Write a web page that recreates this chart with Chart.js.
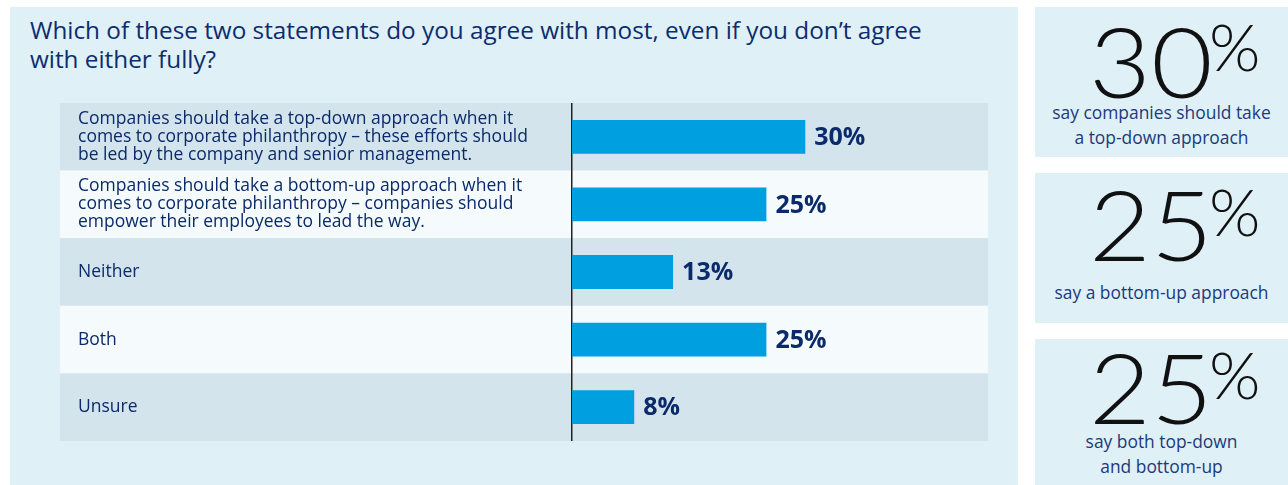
<!DOCTYPE html>
<html>
<head>
<meta charset="utf-8">
<script src="https://cdn.jsdelivr.net/npm/chart.js@4/dist/chart.umd.min.js"></script>
<style>
  body { margin: 0; background: #fff; width: 1288px; height: 485px; overflow: hidden; position: relative; font-family: "Open Sans", sans-serif; }
  #main { position: absolute; left: 10px; top: 7px; width: 1008px; height: 490px; background: #dff0f7; }
  #title { position: absolute; left: 30px; top: 15px; font-size: 24.3px; line-height: 29px; color: #0b2d6e; }
  #chart { position: absolute; left: 60px; top: 103px; }
  .panel { position: absolute; left: 1035px; width: 253px; background: #dff0f7; }
  .big { position: absolute; font-family: Lato, sans-serif; font-weight: 300; font-size: 97px; line-height: 97px; color: #111; transform: scaleX(1.1); transform-origin: left top; }
  .pct { position: absolute; font-family: Lato, sans-serif; font-weight: 300; font-size: 66px; line-height: 66px; color: #111; }
  .cap { position: absolute; left: 0; width: 253px; text-align: center; font-size: 17.4px; line-height: 25px; color: #1b3a7c; }
</style>
</head>
<body>
<div id="main"></div>
<div id="title">Which of these two statements do you agree with most, even if you don’t agree<br>with either fully?</div>
<canvas id="chart" width="928" height="338"></canvas>

<div class="panel" style="top:7px;height:150px">
  <div class="big" style="left:54px;top:5px">30</div>
  <div class="pct" style="left:174px;top:6px">%</div>
  <div class="cap" style="top:93px">say companies should take<br>a top-down approach</div>
</div>
<div class="panel" style="top:173px;height:150px">
  <div class="big" style="left:54px;top:2px">25</div>
  <div class="pct" style="left:174px;top:5px">%</div>
  <div class="cap" style="top:107px">say a bottom-up approach</div>
</div>
<div class="panel" style="top:339px;height:146px">
  <div class="big" style="left:54px;top:-1px">25</div>
  <div class="pct" style="left:174px;top:2px">%</div>
  <div class="cap" style="top:90px">say both top-down<br>and bottom-up</div>
</div>

<script>
var categories = [
  ["Companies should take a top-down approach when it", "comes to corporate philanthropy – these efforts should", "be led by the company and senior management."],
  ["Companies should take a bottom-up approach when it", "comes to corporate philanthropy – companies should", "empower their employees to lead the way."],
  "Neither",
  "Both",
  "Unsure"
];
var values = [30, 25, 13, 25, 8];
var valueLabels = ["30%", "25%", "13%", "25%", "8%"];

var rowColors = ["#d3e4ec", "#f5fbfd"];
var navy = "#0b2a6b";

// alternating row bands behind the bars
var rowBands = {
  id: 'rowBands',
  beforeDraw: function(chart) {
    var ctx = chart.ctx;
    var yScale = chart.scales.y;
    var step = yScale.height / categories.length;
    ctx.save();
    for (var i = 0; i < categories.length; i++) {
      var yc = yScale.getPixelForValue(i);
      ctx.fillStyle = rowColors[i % 2];
      ctx.fillRect(0, yc - step / 2, chart.width, step);
    }
    ctx.restore();
  }
};

// percentage labels at the end of each bar
var barLabels = {
  id: 'barLabels',
  afterDatasetsDraw: function(chart) {
    var ctx = chart.ctx;
    var meta = chart.getDatasetMeta(0);
    ctx.save();
    ctx.font = "bold 25px 'Open Sans'";
    ctx.fillStyle = navy;
    ctx.textAlign = "left";
    ctx.textBaseline = "middle";
    meta.data.forEach(function(bar, i) {
      ctx.fillText(valueLabels[i], bar.x + 9, bar.y + 1);
    });
    ctx.restore();
  }
};

var ctx = document.getElementById('chart').getContext('2d');
window.myBar = new Chart(ctx, {
  type: 'bar',
  data: {
    labels: categories,
    datasets: [{
      data: values,
      backgroundColor: "#009fe0",
      borderWidth: 0,
      categoryPercentage: 1,
      barPercentage: 0.5
    }]
  },
  options: {
    indexAxis: 'y',
    responsive: false,
    animation: false,
    devicePixelRatio: 1,
    layout: { padding: { left: 18, right: 0, top: 0, bottom: 0 } },
    plugins: { legend: { display: false }, tooltip: { enabled: false } },
    scales: {
      x: { display: false, min: 0, max: 53.5 },
      y: {
        grid: { display: false },
        border: { display: true, color: "#222", width: 1.5 },
        ticks: {
          crossAlign: 'far',
          color: navy,
          font: { family: "'Open Sans'", size: 17.5, weight: '500', lineHeight: 1.03 }
        },
        afterFit: function(scale) {
          scale.width = 494;
          scale.paddingTop = 0;
          scale.paddingBottom = 0;
        }
      }
    }
  },
  plugins: [rowBands, barLabels]
});
</script>
</body>
</html>
